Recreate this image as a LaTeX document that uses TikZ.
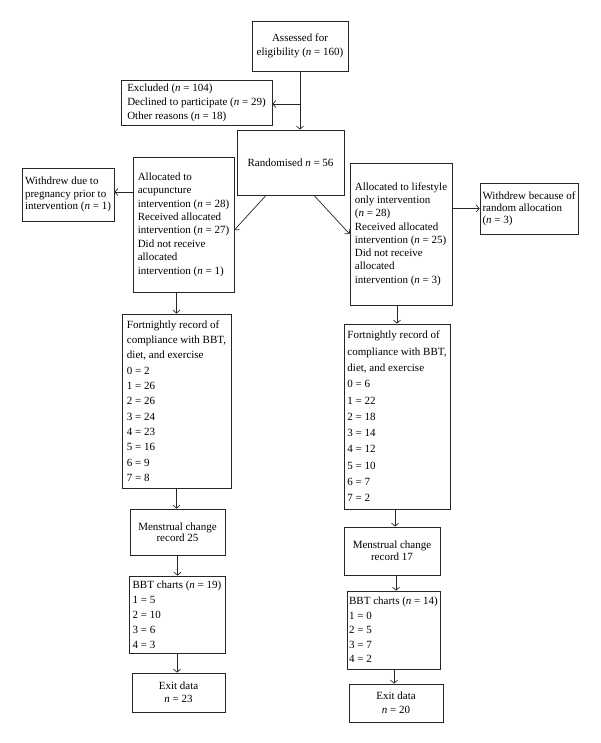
\documentclass[tikz,border=0pt]{standalone}
\usepackage{fontspec}
\setmainfont{Liberation Serif}
\usetikzlibrary{arrows.meta}
\newcommand{\nn}{\textit{n}}
\begin{document}
\begin{tikzpicture}[x=1pt,y=-1pt,
  box/.style={draw=black!85, line width=0.8pt, inner sep=0pt, align=left},
  cbox/.style={draw=black!85, line width=0.8pt, inner sep=0pt, align=center},
  arr/.style={draw=black!85, line width=0.7pt, -{Straight Barb[length=3pt,width=7pt]}},
  fs/.style={font=\fontsize{11}{#1}\selectfont}]
\fill[white] (0,0) rectangle (600,743);
\useasboundingbox (0,0) rectangle (600,743);

\node[cbox, fs=14, minimum width=96, minimum height=50] (assess) at (300,46) {Assessed for\\eligibility (\nn{} = 160)};
\node[box, fs=14, minimum width=151, minimum height=45] (excl) at (196.5,102.5) {Excluded (\nn{} = 104)\\Declined to participate (\nn{} = 29)\\Other reasons (\nn{} = 18)};
\node[cbox, fs=13, minimum width=107, minimum height=65] (rand) at (290.5,162.5) {Randomised \nn{} = 56};
\node[box, fs=13.4, minimum width=101, minimum height=135] (acup) at (183.5,224.5) {Allocated to\\acupuncture\\intervention (\nn{} = 28)\\Received allocated\\intervention (\nn{} = 27)\\Did not receive\\allocated\\intervention (\nn{} = 1)};
\node[box, fs=12.5, minimum width=92, minimum height=53] (wpreg) at (68,194.5) {Withdrew due to\\pregnancy prior to\\intervention (\nn{} = 1)};
\node[box, fs=13.3, minimum width=102, minimum height=142] (life) at (401,234) {Allocated to lifestyle\\only intervention\\(\nn{} = 28)\\Received allocated\\intervention (\nn{} = 25)\\Did not receive\\allocated\\intervention (\nn{} = 3)};
\node[box, fs=12, minimum width=98, minimum height=51] (wrand) at (529,208.5) {Withdrew because of\\random allocation\\(\nn{} = 3)};
\node[box, fs=15.3, minimum width=109, minimum height=174] (fort1) at (176.5,401) {Fortnightly record of\\compliance with BBT,\\diet, and exercise\\0 = 2\\1 = 26\\2 = 26\\3 = 24\\4 = 23\\5 = 16\\6 = 9\\7 = 8};
\node[box, fs=16.3, minimum width=106, minimum height=185] (fort2) at (397,416.5) {Fortnightly record of\\compliance with BBT,\\diet, and exercise\\0 = 6\\1 = 22\\2 = 18\\3 = 14\\4 = 12\\5 = 10\\6 = 7\\7 = 2};
\node[cbox, fs=11.5, minimum width=95, minimum height=46] (men1) at (177.5,532) {Menstrual change\\record 25};
\node[cbox, fs=12, minimum width=96, minimum height=48] (men2) at (392,551) {Menstrual change\\record 17};
\node[box, fs=15, minimum width=96, minimum height=77] (bbt1) at (177,614.5) {BBT charts (\nn{} = 19)\\1 = 5\\2 = 10\\3 = 6\\4 = 3};
\node[box, fs=14.5, minimum width=93, minimum height=78] (bbt2) at (393.5,630) {BBT charts (\nn{} = 14)\\1 = 0\\2 = 5\\3 = 7\\4 = 2};
\node[cbox, fs=13, minimum width=93, minimum height=39] (exit1) at (178.5,692.5) {Exit data\\\nn{} = 23};
\node[cbox, fs=14, minimum width=94, minimum height=38] (exit2) at (396,703) {Exit data\\\nn{} = 20};

\draw[arr] (assess.south) -- (assess.south |- rand.north);
\draw[arr] (assess.south |- 0,104) -- (excl.east |- 0,104);
\draw[arr] ([xshift=-24.5pt]rand.south) -- (acup.east |- 0,230);
\draw[arr] ([xshift=23.5pt]rand.south) -- (life.west |- 0,234);
\draw[arr] (acup.west |- 0,192) -- (wpreg.east |- 0,192);
\draw[arr] (life.east |- wrand.west) -- (wrand.west);
\draw[arr] (acup.south -| fort1.north) -- (fort1.north);
\draw[arr] (fort1.south) -- (fort1.south |- men1.north);
\draw[arr] (men1.south) -- (men1.south |- bbt1.north);
\draw[arr] (bbt1.south) -- (bbt1.south |- exit1.north);
\draw[arr] (life.south -| fort2.north) -- (fort2.north);
\draw[arr] (fort2.south -| 395,0) -- (men2.north -| 395,0);
\draw[arr] (men2.south -| 396,0) -- (bbt2.north -| 396,0);
\draw[arr] (bbt2.south -| 394,0) -- (exit2.north -| 394,0);
\end{tikzpicture}
\end{document}
